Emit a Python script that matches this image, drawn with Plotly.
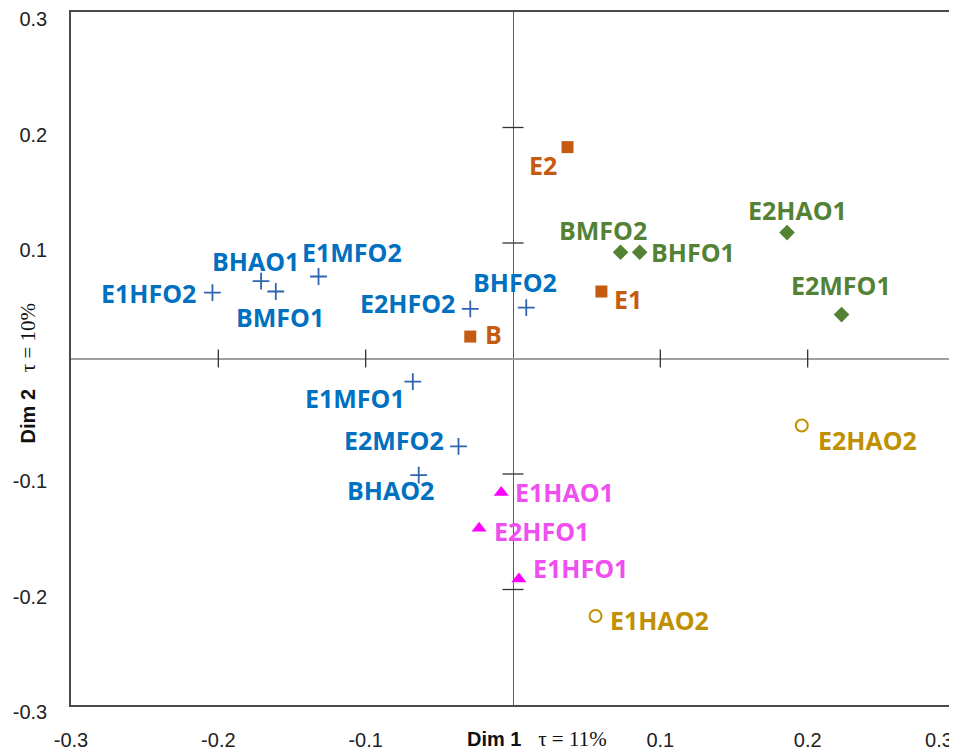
import plotly.graph_objects as go

# ---------------- data ----------------
plus_names = ["E1HFO2", "BHAO1", "BMFO1", "E1MFO2", "E2HFO2", "BHFO2", "E1MFO1", "E2MFO2", "BHAO2"]
plus_x = [-0.204, -0.171, -0.161, -0.132, -0.029, 0.009, -0.068, -0.037, -0.064]
plus_y = [0.057, 0.067, 0.058, 0.071, 0.043, 0.044, -0.020, -0.076, -0.101]

square_names = ["E2", "E1", "B"]
square_x = [0.037, 0.060, -0.029]
square_y = [0.183, 0.058, 0.019]

diamond_names = ["BMFO2", "BHFO1", "E2HAO1", "E2MFO1"]
diamond_x = [0.073, 0.086, 0.186, 0.223]
diamond_y = [0.092, 0.092, 0.109, 0.038]

triangle_names = ["E1HAO1", "E2HFO1", "E1HFO1"]
triangle_x = [-0.008, -0.023, 0.004]
triangle_y = [-0.116, -0.147, -0.191]

circle_names = ["E2HAO2", "E1HAO2"]
circle_x = [0.196, 0.056]
circle_y = [-0.058, -0.223]

tick_values = [-0.3, -0.2, -0.1, 0.1, 0.2, 0.3]
tick_labels = ["-0.3", "-0.2", "-0.1", "0.1", "0.2", "0.3"]
inner_ticks = [-0.2, -0.1, 0.1, 0.2]

x_title = "Dim 1"
x_tau = "τ = 11%"
y_title = "Dim 2"
y_tau = "τ = 10%"

# ---------------- styles ----------------
LABEL_FONT = "Open Sans, Noto Sans, sans-serif"
LABEL_SIZE = 25
TICK_FONT = dict(family="Liberation Sans, Arial, sans-serif", size=20, color="#222222")
# name -> (xanchor, dx px, dy px)  offset of label from its marker
label_offsets = {
    "E1HFO2": ("right", -14, 0), "BHAO1": ("center", -6, 20), "BMFO1": ("center", 4, -25),
    "E1MFO2": ("center", 33, 25), "E2HFO2": ("right", -13, 6), "BHFO2": ("center", -11, 26),
    "E1MFO1": ("right", -6, -16), "E2MFO2": ("right", -12, 6), "BHAO2": ("center", -28, -15),
    "E2": ("right", -9, -18), "E1": ("left", 11, -7), "B": ("left", 13, 3),
    "BMFO2": ("center", -18, 22), "BHFO1": ("left", 9, 0), "E2HAO1": ("center", 10, 23),
    "E2MFO1": ("center", -1, 30),
    "E1HAO1": ("left", 12, 0), "E2HFO1": ("left", 13, -3), "E1HFO1": ("left", 12, 11),
    "E2HAO2": ("left", 14, -15), "E1HAO2": ("left", 12, -4),
}

groups = [
    dict(names=plus_names, x=plus_x, y=plus_y, text_color="#0070C0",
         marker=dict(symbol="cross-thin", size=12, color="#2E64B0",
                     line=dict(width=1.8, color="#2E64B0"))),
    dict(names=square_names, x=square_x, y=square_y, text_color="#C55A11",
         marker=dict(symbol="square", size=12, color="#C55A11")),
    dict(names=diamond_names, x=diamond_x, y=diamond_y, text_color="#548235",
         marker=dict(symbol="diamond", size=12, color="#548235")),
    dict(names=triangle_names, x=triangle_x, y=triangle_y, text_color="#EE4FEE",
         marker=dict(symbol="triangle-up", size=13, color="#FF00FF")),
    dict(names=circle_names, x=circle_x, y=circle_y, text_color="#BF9000",
         marker=dict(symbol="circle-open", size=12, color="#BF9000",
                     line=dict(width=2, color="#BF9000"))),
]

fig = go.Figure()

# inner tick marks on the zero axes
fig.add_trace(go.Scatter(
    x=[0] * len(inner_ticks), y=inner_ticks, mode="markers", hoverinfo="skip",
    marker=dict(symbol="line-ew", size=15, line=dict(width=1.3, color="#333333")),
    showlegend=False))
fig.add_trace(go.Scatter(
    x=inner_ticks, y=[0] * len(inner_ticks), mode="markers", hoverinfo="skip",
    marker=dict(symbol="line-ns", size=13, line=dict(width=1.3, color="#333333")),
    showlegend=False))

annotations = []
for g in groups:
    fig.add_trace(go.Scatter(x=g["x"], y=g["y"], mode="markers", marker=g["marker"],
                             text=g["names"], showlegend=False))
    for name, xv, yv in zip(g["names"], g["x"], g["y"]):
        anchor, dx, dy = label_offsets[name]
        annotations.append(dict(
            x=xv, y=yv, xref="x", yref="y", text=name, showarrow=False,
            xanchor=anchor, yanchor="middle", xshift=dx, yshift=dy,
            font=dict(family=LABEL_FONT, size=LABEL_SIZE, color=g["text_color"], weight=700)))

# axis titles
title_text = ("<b>{}</b>   <span style='font-family:Liberation Serif, serif;"
              "font-size:21px'>{}</span>")
annotations.append(dict(
    x=0.527, y=-0.049, xref="paper", yref="paper", showarrow=False,
    xanchor="center", yanchor="middle", borderpad=0,
    text=title_text.format(x_title, x_tau),
    font=dict(family="Liberation Sans, Arial, sans-serif", size=20, color="#111111")))
annotations.append(dict(
    x=-0.049, y=0.478, xref="paper", yref="paper", showarrow=False, textangle=-90,
    xanchor="center", yanchor="middle",
    text=title_text.format(y_title, y_tau),
    font=dict(family="Liberation Sans, Arial, sans-serif", size=20, color="#111111")))

axis_common = dict(
    range=[-0.3, 0.3], showgrid=False, showline=True, mirror=True,
    linecolor="#4a4a4a", linewidth=1.6, ticks="", zeroline=True,
    tickfont=TICK_FONT, automargin=False,
)

# page body has an 8px margin: size the figure so the plot area lands where the reference has it
fig.update_layout(
    width=949, height=743,
    margin=dict(l=63, r=2, t=4, b=46),
    paper_bgcolor="white", plot_bgcolor="white",
    xaxis=dict(**axis_common, tickvals=tick_values[:-1], ticktext=tick_labels[:-1],
               zerolinecolor="#5a5a5a", zerolinewidth=1.3, ticklabelstandoff=16),
    xaxis2=dict(range=[-0.3, 0.3], overlaying="x", side="bottom", showgrid=False,
                showline=False, zeroline=False, ticks="",
                tickvals=tick_values[-1:], ticktext=tick_labels[-1:],
                ticklabelshift=-16, ticklabelstandoff=21,
                tickfont=TICK_FONT, automargin=False),
    yaxis=dict(**axis_common, tickvals=tick_values, ticktext=tick_labels,
               zerolinecolor="#a0a0a0", zerolinewidth=1.6, ticklabelstandoff=18,
               ticklabelshift=7),
    annotations=annotations,
)
# invisible point that activates the second x axis (used only for the last tick label)
fig.add_trace(go.Scatter(x=[0.3], y=[0], xaxis="x2", mode="markers",
                         marker=dict(opacity=0), hoverinfo="skip", showlegend=False))

fig.write_html("out.html")
